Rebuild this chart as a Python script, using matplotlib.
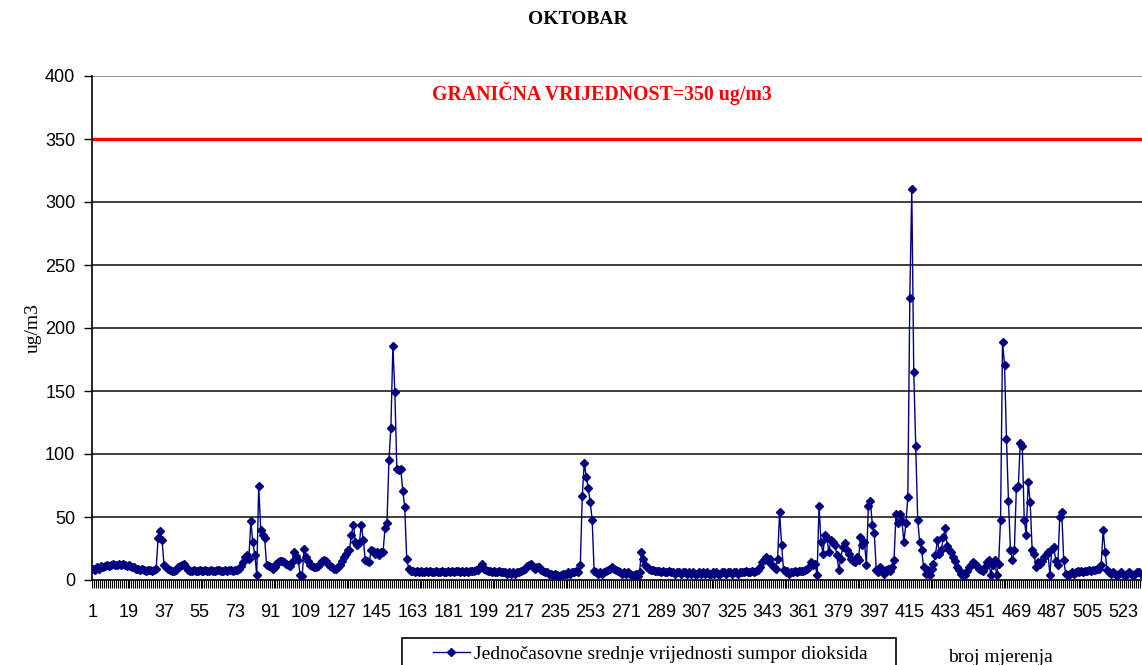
import numpy as np
import matplotlib
matplotlib.use('Agg')
import matplotlib.pyplot as plt
from matplotlib.patches import Rectangle

# hourly SO2 values (ug/m3), 10 per row
so2 = [
    9, 8, 10, 9, 11, 10, 11, 12, 11, 12,
    13, 12, 12, 13, 12, 13, 12, 11, 12, 11,
    10, 10, 9, 9, 8, 9, 8, 7, 8, 8,
    7, 8, 9, 33, 39, 32, 12, 10, 9, 8,
    7, 7, 8, 10, 11, 12, 13, 10, 8, 7,
    7, 8, 7, 7, 8, 7, 7, 8, 7, 7,
    8, 7, 7, 8, 8, 7, 7, 8, 7, 8,
    8, 7, 8, 8, 9, 11, 14, 18, 20, 17,
    47, 30, 20, 4, 75, 40, 36, 33, 12, 11,
    10, 9, 10, 13, 14, 15, 15, 14, 13, 12,
    11, 14, 22, 19, 16, 4, 3, 25, 18, 15,
    12, 11, 10, 10, 11, 13, 15, 16, 15, 13,
    11, 10, 9, 9, 10, 12, 15, 18, 21, 24,
    24, 36, 44, 30, 28, 29, 44, 32, 16, 15,
    14, 24, 23, 21, 22, 20, 22, 22, 41, 45,
    95, 121, 186, 149, 88, 87, 88, 71, 58, 17,
    9, 7, 7, 6, 7, 6, 7, 6, 6, 7,
    6, 7, 6, 6, 7, 6, 6, 7, 6, 6,
    7, 6, 7, 6, 7, 7, 6, 7, 6, 7,
    6, 7, 7, 7, 8, 8, 10, 13, 9, 8,
    7, 7, 6, 7, 6, 6, 7, 6, 6, 6,
    5, 6, 5, 6, 5, 6, 6, 7, 8, 9,
    11, 12, 13, 10, 9, 10, 10, 8, 7, 6,
    6, 5, 5, 4, 5, 4, 3, 4, 5, 5,
    5, 6, 5, 6, 6, 7, 6, 12, 67, 93,
    82, 73, 62, 48, 7, 6, 5, 6, 5, 6,
    7, 8, 9, 10, 9, 8, 7, 6, 5, 6,
    5, 6, 5, 4, 4, 5, 3, 6, 22, 17,
    12, 10, 9, 8, 8, 7, 7, 7, 6, 7,
    6, 6, 7, 6, 6, 5, 6, 6, 5, 6,
    6, 5, 6, 5, 6, 5, 5, 6, 5, 6,
    5, 6, 5, 5, 6, 5, 6, 5, 5, 6,
    6, 5, 6, 6, 5, 6, 6, 5, 6, 6,
    6, 7, 6, 6, 7, 6, 7, 8, 10, 14,
    16, 18, 15, 17, 12, 10, 9, 17, 54, 28,
    8, 6, 7, 5, 6, 6, 7, 6, 7, 7,
    7, 8, 9, 10, 14, 12, 13, 4, 59, 30,
    21, 36, 33, 22, 32, 30, 28, 20, 8, 17,
    26, 29, 24, 21, 17, 15, 14, 18, 16, 34,
    28, 30, 12, 59, 63, 44, 37, 8, 6, 10,
    7, 5, 8, 9, 7, 10, 16, 52, 45, 52,
    47, 30, 45, 66, 224, 310, 165, 106, 48, 30,
    24, 10, 5, 8, 4, 9, 13, 20, 32, 21,
    24, 34, 41, 27, 24, 22, 18, 15, 10, 8,
    5, 3, 4, 7, 10, 12, 14, 13, 11, 9,
    8, 7, 10, 14, 16, 4, 12, 16, 4, 13,
    48, 189, 171, 112, 63, 24, 16, 24, 73, 75,
    109, 106, 48, 36, 78, 62, 24, 21, 10, 14,
    13, 15, 18, 20, 22, 4, 25, 26, 15, 12,
    50, 54, 16, 5, 4, 5, 6, 5, 6, 7,
    6, 7, 6, 7, 7, 8, 7, 8, 8, 9,
    9, 12, 40, 22, 8, 6, 5, 6, 5, 4,
    5, 6, 5, 3, 5, 6, 5, 4, 5, 6,
    6, 5,
]
measurement = np.arange(1, len(so2) + 1)
x_labels = list(range(1, 524, 18))
limit = 350
y_ticks = list(range(0, 401, 50))

serif = ['Liberation Serif', 'DejaVu Serif']
sans = ['Liberation Sans', 'DejaVu Sans']

fig = plt.figure(figsize=(11.42, 6.65), dpi=100)
ax = fig.add_axes([92 / 1142, 1 - 580 / 665, 1050 / 1142, 504 / 665])

for y in y_ticks[1:]:
    ax.axhline(y, color='#303030' if y < 400 else '#8a8a8a', lw=1.3, zorder=1)
ax.axhline(limit, color='red', lw=2.4, zorder=2)

ax.plot(measurement, so2, color='#000080', lw=1.0, marker='D', ms=3.9,
        mec='#000080', mfc='#000080', zorder=3,
        label='Jednočasovne srednje vrijednosti sumpor dioksida')

ax.set_xlim(0.5, 0.5 + 1050 / 1.973)
ax.set_ylim(0, 400)
ax.set_yticks(y_ticks)
ax.set_xticks(x_labels)
ax.set_xticks(np.arange(0.5, 533, 1), minor=True)
ax.tick_params(axis='x', which='major', length=0, pad=17, labelsize=13)
ax.tick_params(axis='x', which='minor', length=6, width=0.8, color='black')
ax.tick_params(axis='y', length=6, width=1, pad=6, labelsize=13)
for lab in ax.get_xticklabels() + ax.get_yticklabels():
    lab.set_family(sans)

for s in ['top', 'right']:
    ax.spines[s].set_visible(False)
ax.spines['left'].set_linewidth(1.2)
ax.spines['bottom'].set_linewidth(1.2)

ax.text(0.486, 386.5, 'GRANIČNA VRIJEDNOST=350 ug/m3', transform=ax.get_yaxis_transform(),
        ha='center', va='center', color='red', fontsize=14.3, fontweight='bold', family=serif)

fig.text(578 / 1142, 1 - 20 / 665, 'OKTOBAR', ha='center', va='center',
         fontsize=14, fontweight='bold', family=serif)
fig.text(33 / 1142, 1 - 328 / 665, 'ug/m3', rotation=90, ha='center', va='center',
         fontsize=14, family=serif)
fig.text(948 / 1142, 1 - 657 / 665, 'broj mjerenja', ha='left', va='center',
         fontsize=14, family=serif)

# legend box (runs off the bottom edge like the original)
fig.add_artist(Rectangle((402 / 1142, -0.05), (896 - 402) / 1142, 0.05 + 1 - 638 / 665,
                         transform=fig.transFigure, fill=False, ec='black', lw=1.2))
leg = fig.legend(loc='center left', bbox_to_anchor=(433 / 1142, 1 - 654 / 665),
                 frameon=False, borderpad=0, borderaxespad=0, handlelength=1.9,
                 handletextpad=0.2, prop={'family': serif, 'size': 14})

fig.savefig('out.png', dpi=100)
